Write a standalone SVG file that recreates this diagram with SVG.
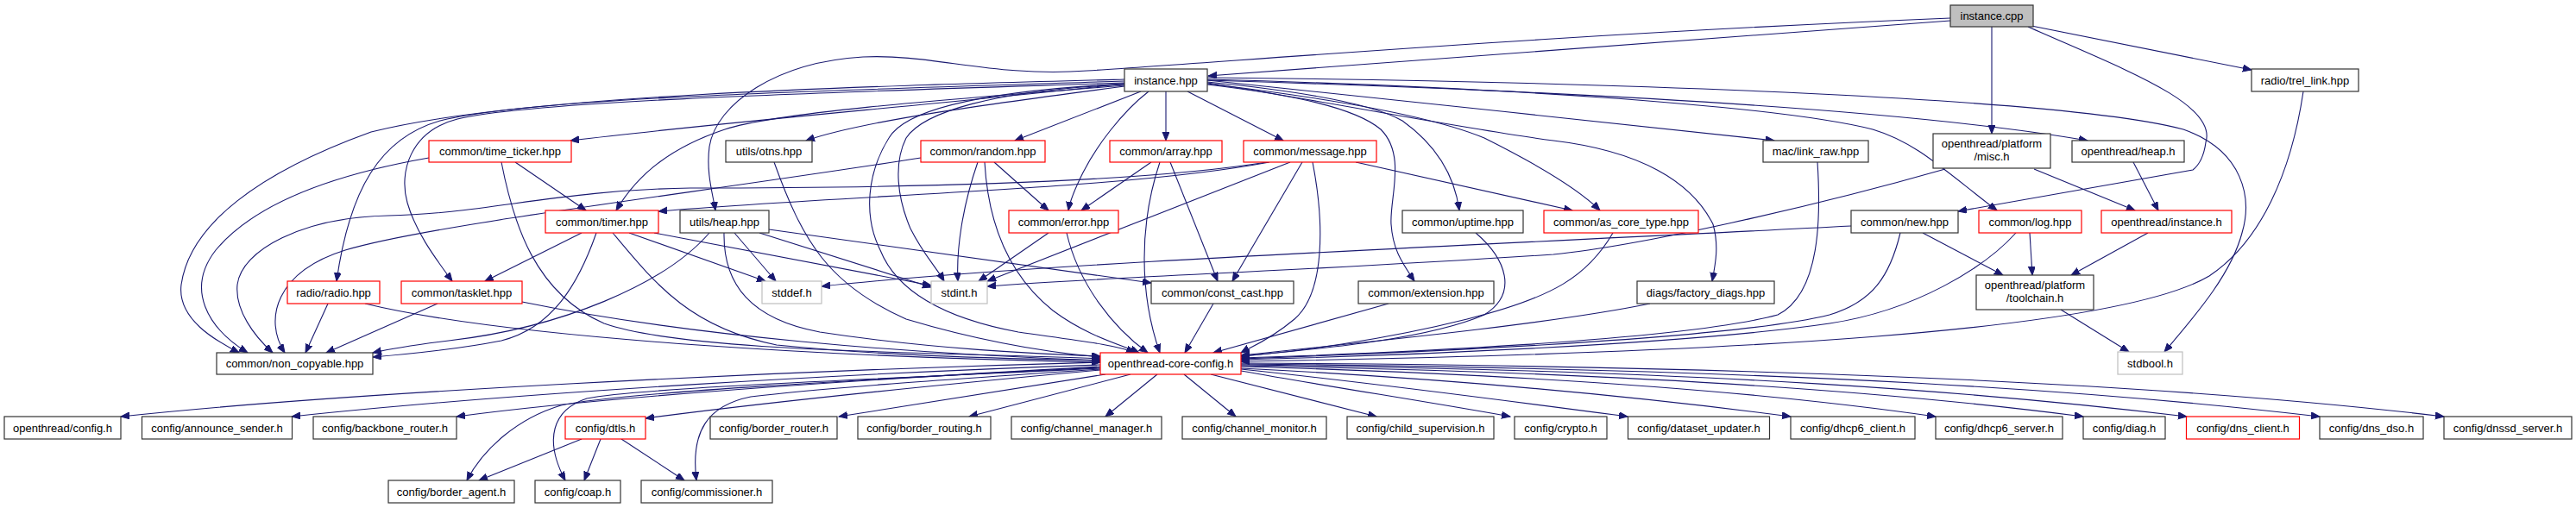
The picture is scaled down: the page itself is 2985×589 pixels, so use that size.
<svg xmlns="http://www.w3.org/2000/svg" width="2985" height="589" viewBox="0 0 2985 589">
<style>
.n rect{fill:#fff;stroke:#333;stroke-width:1.2}
.r rect{fill:#fff;stroke:#f00;stroke-width:1.2}
.g rect{fill:#fff;stroke:#bfbfbf;stroke-width:1.2}
.root rect{fill:#bfbfbf;stroke:#333;stroke-width:1.2}
text{font-family:"Liberation Sans",Arial,sans-serif;font-size:13px;fill:#000;text-anchor:middle}
#edges path{fill:none;stroke:#191970;stroke-width:1.1;marker-end:url(#ah)}
</style>
<defs>
<marker id="ah" markerUnits="userSpaceOnUse" markerWidth="11" markerHeight="9" refX="10" refY="4" orient="auto">
<path d="M0,0 L10,4 L0,8 z" fill="#191970" stroke="#191970" stroke-width="1"/>
</marker>
</defs>
<rect width="2985" height="589" fill="#fff"/>
<g id="edges">
<!-- instance.cpp -->
<path d="M2260,24 C1900,50 1600,75 1400,88"/>
<path d="M2260,21 C1800,40 1450,70 1260,82 C1150,90 1080,62 1000,66 C900,72 830,120 822,170 C818,200 826,225 829,244"/>
<path d="M2308,31 L2308,155"/>
<path d="M2350,31 C2460,80 2570,120 2556,165 C2554,180 2550,190 2541,197 L2269,245"/>
<path d="M2354,30 L2609,81"/>
<!-- instance.hpp -->
<path d="M1303,97 C1100,120 850,140 661,163"/>
<path d="M1303,99 C1100,115 900,130 840,150 C780,170 740,200 714,244"/>
<path d="M1303,92 C1000,100 600,110 430,153 C300,200 220,260 210,330 C205,370 250,395 277,409"/>
<path d="M1303,94 C1000,104 620,112 510,140 C440,160 405,220 390,326"/>
<path d="M1303,96 C1000,106 620,116 530,138 C475,152 462,200 472,235 C482,270 505,300 524,326"/>
<path d="M1303,100 C1150,120 1000,140 934,163"/>
<path d="M1322,106 L1176,163"/>
<path d="M1331,106 C1300,130 1270,170 1255,200 C1245,220 1240,232 1238,244"/>
<path d="M1351,106 L1351,163"/>
<path d="M1376,106 L1487,163"/>
<path d="M1303,98 C1150,105 1070,130 1050,160 C1035,190 1040,230 1055,265 C1070,295 1085,310 1094,326"/>
<path d="M1303,97 C1150,105 1050,125 1030,160 C1005,200 1000,250 1020,290 C1040,340 1100,370 1180,385 C1250,395 1295,400 1315,409"/>
<path d="M1399,95 C1500,105 1590,120 1625,140 C1660,165 1685,200 1691,244"/>
<path d="M1399,97 C1550,115 1660,135 1720,160 C1780,190 1830,220 1854,244"/>
<path d="M1399,98 C1500,110 1570,125 1600,150 C1630,180 1610,230 1612,260 C1614,290 1625,305 1639,326"/>
<path d="M1399,96 C1550,120 1700,150 1800,163 C1900,175 1960,210 1985,260 C1992,285 1988,305 1984,326"/>
<path d="M1399,93 C1600,115 1850,140 2056,163"/>
<path d="M1399,92 C1700,100 2050,120 2170,150 C2220,165 2250,195 2314,244"/>
<path d="M1399,93 C1800,105 2200,125 2419,163"/>
<path d="M1399,90 C1900,95 2400,115 2530,150 C2600,175 2610,230 2598,270 C2585,320 2540,370 2508,408"/>
<!-- time_ticker -->
<path d="M597,188 L679,244"/>
<path d="M497,183 C400,200 300,230 250,290 C215,335 240,380 287,409"/>
<path d="M581,188 C595,260 620,340 700,375 C800,410 1100,408 1275,416"/>
<!-- timer -->
<path d="M674,270 L562,326"/>
<path d="M691,270 C670,330 640,380 581,395 C530,405 480,410 432,414"/>
<path d="M710,270 C760,330 800,380 900,400 C1050,415 1200,416 1275,418"/>
<path d="M729,270 L887,326"/>
<path d="M758,270 L1079,331"/>
<!-- utils/heap -->
<path d="M822,270 C770,330 650,380 520,395 C480,400 450,405 432,409"/>
<path d="M839,270 C838,330 870,370 950,385 C1080,405 1200,410 1275,413"/>
<path d="M851,270 L899,326"/>
<path d="M880,270 L1079,333"/>
<path d="M891,266 L1334,328"/>
<!-- random -->
<path d="M1067,183 C800,225 500,260 400,290 C320,315 305,370 330,409"/>
<path d="M1152,188 L1215,244"/>
<path d="M1133,188 C1115,240 1108,290 1110,326"/>
<path d="M1141,188 C1145,260 1170,320 1220,360 C1260,390 1300,400 1320,409"/>
<!-- error -->
<path d="M1215,270 L1134,326"/>
<path d="M1236,270 C1250,330 1290,380 1330,409"/>
<!-- array -->
<path d="M1334,188 L1253,244"/>
<path d="M1344,188 C1320,260 1320,340 1344,409"/>
<path d="M1356,188 L1411,326"/>
<!-- message -->
<path d="M1471,188 C1300,220 1000,225 763,245"/>
<path d="M1468,188 C1300,215 1000,218 800,218 C650,220 560,248 450,250 C350,252 280,290 275,330 C272,360 295,390 316,409"/>
<path d="M1495,188 L1144,326"/>
<path d="M1509,188 L1428,326"/>
<path d="M1521,188 C1535,260 1535,340 1500,370 C1470,395 1450,402 1438,409"/>
<path d="M1571,188 L1822,244"/>
<!-- otns -->
<path d="M897,188 C930,280 960,330 1050,370 C1150,400 1230,410 1275,414"/>
<!-- radio -->
<path d="M380,352 L354,409"/>
<path d="M423,352 C600,395 1000,415 1275,420"/>
<!-- tasklet -->
<path d="M507,352 L378,409"/>
<path d="M605,350 C800,390 1050,410 1275,418"/>
<!-- others to core -->
<path d="M1406,352 L1373,409"/>
<path d="M1609,352 L1406,409"/>
<path d="M1710,270 C1745,300 1760,340 1720,365 C1650,395 1520,405 1438,413"/>
<path d="M1869,270 C1840,320 1800,345 1700,370 C1600,395 1500,408 1438,413"/>
<path d="M1912,352 C1800,375 1600,395 1438,412"/>
<path d="M2106,188 C2110,250 2110,340 2060,365 C1950,395 1600,410 1438,415"/>
<path d="M2202,270 C2190,320 2170,350 2120,365 C2000,395 1600,410 1438,416"/>
<path d="M2336,270 C2300,310 2220,360 2120,375 C1950,400 1600,413 1438,417"/>
<path d="M2669,106 C2655,200 2620,280 2560,320 C2450,385 2000,410 1438,419"/>
<!-- new, misc, log, headers -->
<path d="M2145,262 C1700,285 1200,305 952,332"/>
<path d="M2254,196 C2100,240 1900,285 1800,295 C1500,315 1300,320 1144,332"/>
<path d="M2357,196 L2474,244"/>
<path d="M2228,270 L2321,319"/>
<path d="M2352,270 L2355,319"/>
<path d="M2489,270 L2400,319"/>
<path d="M2472,188 L2501,244"/>
<path d="M2388,359 L2467,408"/>
<!-- core config to bottom -->
<path d="M1275,420 C900,430 400,455 140,483"/>
<path d="M1275,423 C1000,432 600,455 338,483"/>
<path d="M1275,425 C1000,440 700,460 529,483"/>
<path d="M1275,426 C1000,440 720,455 650,470 C600,485 560,520 541,557"/>
<path d="M1275,427 C1000,440 740,450 680,462 C640,475 630,510 655,557"/>
<path d="M1275,428 C1100,440 950,450 870,460 C820,470 800,500 807,557"/>
<path d="M1275,429 C1100,445 900,465 748,485"/>
<path d="M1281,434 L972,483"/>
<path d="M1310,434 L1123,483"/>
<path d="M1341,434 L1281,483"/>
<path d="M1372,434 L1432,483"/>
<path d="M1403,434 L1595,483"/>
<path d="M1438,430 C1550,450 1650,465 1750,483"/>
<path d="M1438,428 C1600,445 1750,465 1886,483"/>
<path d="M1438,427 C1700,440 1900,460 2075,483"/>
<path d="M1438,425 C1800,435 2050,455 2243,483"/>
<path d="M1438,424 C1900,432 2200,455 2414,483"/>
<path d="M1438,423 C2000,430 2300,455 2534,483"/>
<path d="M1438,422 C2100,428 2450,455 2688,483"/>
<path d="M1438,421 C2200,425 2600,455 2832,483"/>
<!-- dtls -->
<path d="M674,509 L555,557"/>
<path d="M696,509 L677,557"/>
<path d="M720,509 L793,557"/>
</g>
<g id="node-instance-cpp" class="root"><rect x="2260" y="6" width="96" height="25"/><text x="2308" y="23">instance.cpp</text></g>
<g id="node-instance-hpp" class="n"><rect x="1303" y="80" width="96" height="26"/><text x="1351" y="97.5">instance.hpp</text></g>
<g id="node-trel-link" class="n"><rect x="2609" y="80" width="124" height="26"/><text x="2671" y="97.5">radio/trel_link.hpp</text></g>
<g id="node-time-ticker" class="r"><rect x="497" y="163" width="165" height="25"/><text x="579.5" y="180">common/time_ticker.hpp</text></g>
<g id="node-otns" class="n"><rect x="841" y="163" width="100" height="25"/><text x="891" y="180">utils/otns.hpp</text></g>
<g id="node-random" class="r"><rect x="1067" y="163" width="144" height="25"/><text x="1139" y="180">common/random.hpp</text></g>
<g id="node-array" class="r"><rect x="1286" y="163" width="130" height="25"/><text x="1351" y="180">common/array.hpp</text></g>
<g id="node-message" class="r"><rect x="1441" y="163" width="154" height="25"/><text x="1518" y="180">common/message.hpp</text></g>
<g id="node-link-raw" class="n"><rect x="2043" y="163" width="122" height="25"/><text x="2104" y="180">mac/link_raw.hpp</text></g>
<g id="node-misc" class="n"><rect x="2240" y="155" width="136" height="40"/><text x="2308" y="171">openthread/platform</text><text x="2308" y="186">/misc.h</text></g>
<g id="node-ot-heap" class="n"><rect x="2401" y="163" width="130" height="25"/><text x="2466" y="180">openthread/heap.h</text></g>
<g id="node-timer" class="r"><rect x="632" y="244" width="131" height="26"/><text x="697.5" y="261.5">common/timer.hpp</text></g>
<g id="node-utils-heap" class="n"><rect x="788" y="244" width="103" height="26"/><text x="839.5" y="261.5">utils/heap.hpp</text></g>
<g id="node-error" class="r"><rect x="1169" y="244" width="127" height="26"/><text x="1232.5" y="261.5">common/error.hpp</text></g>
<g id="node-uptime" class="n"><rect x="1625" y="244" width="140" height="26"/><text x="1695" y="261.5">common/uptime.hpp</text></g>
<g id="node-as-core-type" class="r"><rect x="1789" y="244" width="179" height="26"/><text x="1878.5" y="261.5">common/as_core_type.hpp</text></g>
<g id="node-new" class="n"><rect x="2145" y="244" width="124" height="26"/><text x="2207" y="261.5">common/new.hpp</text></g>
<g id="node-log" class="r"><rect x="2293" y="244" width="119" height="26"/><text x="2352.5" y="261.5">common/log.hpp</text></g>
<g id="node-ot-instance" class="r"><rect x="2435" y="244" width="151" height="26"/><text x="2510.5" y="261.5">openthread/instance.h</text></g>
<g id="node-radio" class="r"><rect x="333" y="326" width="107" height="26"/><text x="386.5" y="343.5">radio/radio.hpp</text></g>
<g id="node-tasklet" class="r"><rect x="465" y="326" width="140" height="26"/><text x="535" y="343.5">common/tasklet.hpp</text></g>
<g id="node-stddef" class="g"><rect x="883" y="326" width="69" height="26"/><text x="917.5" y="343.5">stddef.h</text></g>
<g id="node-stdint" class="g"><rect x="1079" y="326" width="65" height="26"/><text x="1111.5" y="343.5">stdint.h</text></g>
<g id="node-const-cast" class="n"><rect x="1334" y="326" width="165" height="26"/><text x="1416.5" y="343.5">common/const_cast.hpp</text></g>
<g id="node-extension" class="n"><rect x="1574" y="326" width="157" height="26"/><text x="1652.5" y="343.5">common/extension.hpp</text></g>
<g id="node-factory-diags" class="n"><rect x="1897" y="326" width="159" height="26"/><text x="1976.5" y="343.5">diags/factory_diags.hpp</text></g>
<g id="node-toolchain" class="n"><rect x="2290" y="319" width="136" height="40"/><text x="2358" y="335">openthread/platform</text><text x="2358" y="350">/toolchain.h</text></g>
<g id="node-non-copyable" class="n"><rect x="251" y="409" width="181" height="25"/><text x="341.5" y="426">common/non_copyable.hpp</text></g>
<g id="node-core-config" class="r"><rect x="1275" y="409" width="163" height="25"/><text x="1356.5" y="426">openthread-core-config.h</text></g>
<g id="node-stdbool" class="g"><rect x="2454" y="408" width="75" height="26"/><text x="2491.5" y="425.5">stdbool.h</text></g>
<g id="node-ot-config" class="n"><rect x="5" y="483" width="135" height="26"/><text x="72.5" y="500.5">openthread/config.h</text></g>
<g id="node-announce" class="n"><rect x="164.5" y="483" width="174" height="26"/><text x="251.5" y="500.5">config/announce_sender.h</text></g>
<g id="node-backbone" class="n"><rect x="363" y="483" width="166" height="26"/><text x="446" y="500.5">config/backbone_router.h</text></g>
<g id="node-dtls" class="r"><rect x="655" y="483" width="93" height="26"/><text x="701.5" y="500.5">config/dtls.h</text></g>
<g id="node-border-router" class="n"><rect x="823" y="483" width="147" height="26"/><text x="896.5" y="500.5">config/border_router.h</text></g>
<g id="node-border-routing" class="n"><rect x="994" y="483" width="154" height="26"/><text x="1071" y="500.5">config/border_routing.h</text></g>
<g id="node-channel-manager" class="n"><rect x="1172" y="483" width="174" height="26"/><text x="1259" y="500.5">config/channel_manager.h</text></g>
<g id="node-channel-monitor" class="n"><rect x="1370" y="483" width="167" height="26"/><text x="1453.5" y="500.5">config/channel_monitor.h</text></g>
<g id="node-child-supervision" class="n"><rect x="1561" y="483" width="170" height="26"/><text x="1646" y="500.5">config/child_supervision.h</text></g>
<g id="node-crypto" class="n"><rect x="1755" y="483" width="107" height="26"/><text x="1808.5" y="500.5">config/crypto.h</text></g>
<g id="node-dataset-updater" class="n"><rect x="1886.5" y="483" width="164" height="26"/><text x="1968.5" y="500.5">config/dataset_updater.h</text></g>
<g id="node-dhcp6-client" class="n"><rect x="2075" y="483" width="144" height="26"/><text x="2147" y="500.5">config/dhcp6_client.h</text></g>
<g id="node-dhcp6-server" class="n"><rect x="2243" y="483" width="147" height="26"/><text x="2316.5" y="500.5">config/dhcp6_server.h</text></g>
<g id="node-diag" class="n"><rect x="2414" y="483" width="95" height="26"/><text x="2461.5" y="500.5">config/diag.h</text></g>
<g id="node-dns-client" class="r"><rect x="2533.5" y="483" width="131" height="26"/><text x="2599" y="500.5">config/dns_client.h</text></g>
<g id="node-dns-dso" class="n"><rect x="2688" y="483" width="120" height="26"/><text x="2748" y="500.5">config/dns_dso.h</text></g>
<g id="node-dnssd-server" class="n"><rect x="2832" y="483" width="148" height="26"/><text x="2906" y="500.5">config/dnssd_server.h</text></g>
<g id="node-border-agent" class="n"><rect x="450" y="557" width="146" height="26"/><text x="523" y="574.5">config/border_agent.h</text></g>
<g id="node-coap" class="n"><rect x="620" y="557" width="99" height="26"/><text x="669.5" y="574.5">config/coap.h</text></g>
<g id="node-commissioner" class="n"><rect x="743" y="557" width="152" height="26"/><text x="819" y="574.5">config/commissioner.h</text></g>
</svg>
